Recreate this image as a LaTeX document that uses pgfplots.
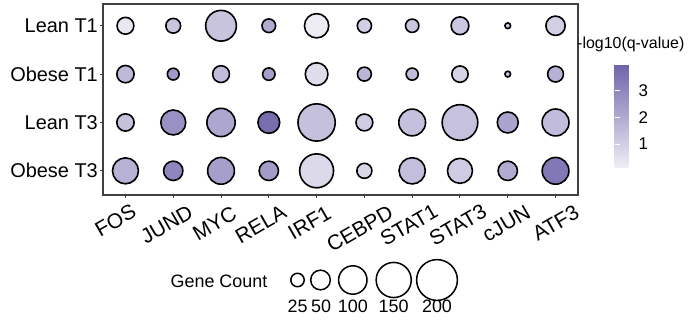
\documentclass[border=0pt]{standalone}
\usepackage{pgfplots}
\usepackage{pgfplotstable}
\pgfplotsset{compat=1.18}
\usepackage{fontspec}
\setmainfont{Liberation Sans}

\pgfplotstableread{
x y n q
0 3 38 0.3
1 3 30 1.3
2 3 117 1.3
3 3 26 2.0
4 3 75 0.2
5 3 28 1.0
6 3 25 1.2
7 3 42 1.2
8 3 6 1.1
9 3 49 1.0
0 2 40 1.6
1 2 20 2.5
2 2 38 1.5
3 2 22 2.3
4 2 66 0.6
5 2 27 1.7
6 2 21 1.5
7 2 36 0.9
8 2 6 1.2
9 2 34 1.8
0 1 40 1.4
1 1 79 2.7
2 1 100 2.1
3 1 61 3.7
4 1 169 1.4
5 1 38 1.1
6 1 90 1.4
7 1 155 1.35
8 1 57 2.2
9 1 91 1.5
0 0 85 1.8
1 0 49 3.0
2 0 90 2.3
3 0 49 2.4
4 0 141 0.7
5 0 31 0.8
6 0 87 1.45
7 0 79 1.1
8 0 49 2.0
9 0 90 3.4
}\datatable

\pgfplotstableread{
x y n
297.5 40 25
320.5 40 50
352.8 40 100
393.7 40 150
437.0 40 200
}\legtable

\tikzset{xlab/.style={rotate=30, anchor=north east, inner sep=0pt, font=\fontsize{21}{21}\selectfont}}

\begin{document}
\begin{tikzpicture}
\path[use as bounding box] (0,0) rectangle (696bp,320bp);
\begin{axis}[
  scale only axis, width=475bp, height=191bp,
  at={(103bp,125bp)}, anchor=south west,
  xmin=-0.47, xmax=9.47, ymin=-0.5, ymax=3.45,
  clip=false,
  xtick={0,...,9},
  xticklabels={},
  ytick={0,1,2,3},
  yticklabels={Obese T3,Lean T3,Obese T1,Lean T1},
  tick align=outside, tick pos=left, major tick length=3bp,
  y tick label style={anchor=east, inner sep=2bp, font=\fontsize{20}{20}\selectfont},
  axis line style={draw=black!75, line width=1.2bp},
  tick style={black!75, line width=1bp},
  colormap={q}{rgb255=(240,239,246) rgb255=(111,99,170)},
  point meta min=0.1, point meta max=4.0,
  colorbar,
  colorbar style={
    at={(parent axis.north east)}, anchor=north west,
    xshift=28bp, yshift=-60bp,
    scale only axis, width=22bp, height=104bp,
    ytick={1,2,3}, yticklabel pos=right, ytick pos=both,
    tick align=inside, major tick length=5bp,
    tick style={white, line width=0.8bp},
    axis line style={draw=none},
    /pgf/number format/assume math mode=true,
    y tick label style={font=\fontsize{17}{17}\selectfont, inner sep=2bp},
  },
]
\addplot[scatter, only marks, mark=*,
  mark options={line width=1.6bp},
  scatter src=explicit,
  visualization depends on={1.5*sqrt(\thisrow{n})-0.8 \as \msize},
  scatter/use mapped color={draw=black, fill=mapped color},
  scatter/@pre marker code/.append style={/tikz/mark size=\msize},
] table[x=x, y=y, meta=q] {\datatable};
\node[xshift=5bp, yshift=-8bp, xlab] at (axis cs:0,-0.5) {FOS};
\node[xshift=14bp, yshift=-9bp, xlab] at (axis cs:1,-0.5) {JUND};
\node[xshift=10bp, yshift=-10bp, xlab] at (axis cs:2,-0.5) {MYC};
\node[xshift=12bp, yshift=-9bp, xlab] at (axis cs:3,-0.5) {RELA};
\node[xshift=9bp, yshift=-10bp, xlab] at (axis cs:4,-0.5) {IRF1};
\node[xshift=23bp, yshift=-9bp, xlab] at (axis cs:5,-0.5) {CEBPD};
\node[xshift=20bp, yshift=-8bp, xlab] at (axis cs:6,-0.5) {STAT1};
\node[xshift=21bp, yshift=-8bp, xlab] at (axis cs:7,-0.5) {STAT3};
\node[xshift=17bp, yshift=-9bp, xlab] at (axis cs:8,-0.5) {cJUN};
\node[xshift=18bp, yshift=-9bp, xlab] at (axis cs:9,-0.5) {ATF3};
\end{axis}
\begin{axis}[
  scale only axis, width=696bp, height=320bp,
  at={(0bp,0bp)}, anchor=south west,
  xmin=0, xmax=696, ymin=0, ymax=320, hide axis, clip=false,
]
\addplot[only marks, mark=*,
  mark options={draw=black, fill=white, line width=1.5bp},
  visualization depends on={1.5*sqrt(\thisrow{n})-0.75 \as \msize},
  scatter, scatter src=explicit,
  scatter/use mapped color={draw=black, fill=white},
  scatter/@pre marker code/.append style={/tikz/mark size=\msize},
] table[x=x, y=y, meta=n] {\legtable};
\node[anchor=center, font=\fontsize{18}{18}\selectfont] at (axis cs:219,39) {Gene Count};
\node[font=\fontsize{18}{18}\selectfont] at (axis cs:297.5,14) {25};
\node[font=\fontsize{18}{18}\selectfont] at (axis cs:321,14) {50};
\node[font=\fontsize{18}{18}\selectfont] at (axis cs:352.8,14) {100};
\node[font=\fontsize{18}{18}\selectfont] at (axis cs:393.7,14) {150};
\node[font=\fontsize{18}{18}\selectfont] at (axis cs:437,14) {200};
\node[anchor=west, inner sep=0pt, font=\fontsize{16}{16}\selectfont] at (axis cs:577,276) {-log10(q-value)};
\end{axis}
\end{tikzpicture}
\end{document}
